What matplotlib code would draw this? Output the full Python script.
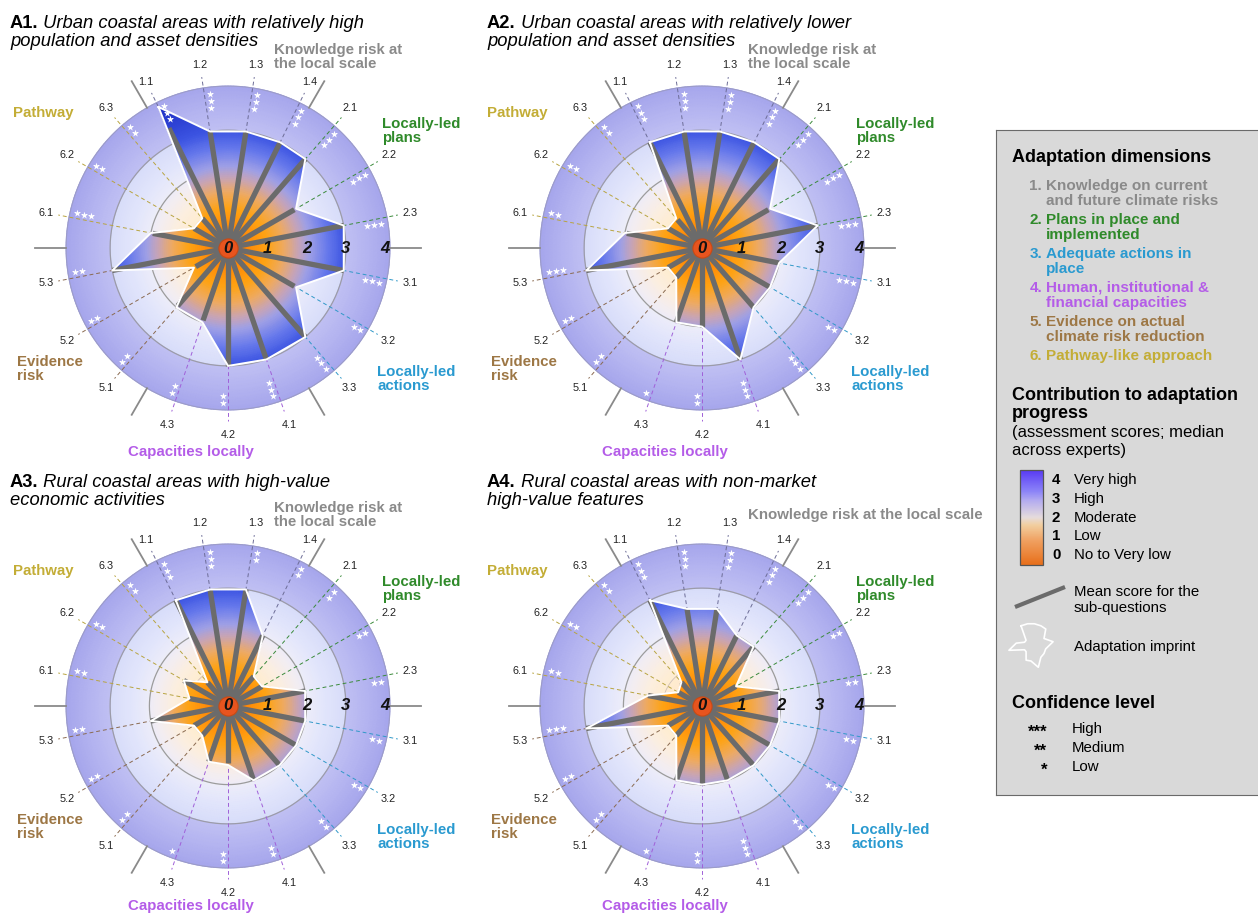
import numpy as np
import matplotlib
matplotlib.use("Agg")
import matplotlib.pyplot as plt
from matplotlib.colors import LinearSegmentedColormap, Normalize, to_rgb
from matplotlib.patches import Polygon, Rectangle

plt.rcParams['font.family'] = ['Liberation Sans', 'DejaVu Sans']

W, H = 1258, 913

# sub-questions, grouped by adaptation dimension
questions = ['1.1', '1.2', '1.3', '1.4', '2.1', '2.2', '2.3', '3.1', '3.2', '3.3',
             '4.1', '4.2', '4.3', '5.1', '5.2', '5.3', '6.1', '6.2', '6.3']
dim_sizes = [4, 3, 3, 3, 3, 3]
dim_centers = [90, 30, -30, -90, -150, -210]   # degrees, sector centres
dim_colors = ['#8a8a8a', '#2f8a2a', '#2a9ad0', '#b45ce8', '#9d7745', '#c3ad36']
dash_colors = ['#6c6c96', '#3a8a3a', '#3098c8', '#a060d8', '#8a6a50', '#b8a440']

dim_labels = ['Knowledge risk at\nthe local scale', 'Locally-led\nplans', 'Locally-led\nactions',
              'Capacities locally', 'Evidence\nrisk', 'Pathway']
dim_labels_a4 = ['Knowledge risk at the local scale'] + dim_labels[1:]

legend_dims = [('1.', 'Knowledge on current', 'and future climate risks'),
               ('2.', 'Plans in place and', 'implemented'),
               ('3.', 'Adequate actions in', 'place'),
               ('4.', 'Human, institutional &', 'financial capacities'),
               ('5.', 'Evidence on actual', 'climate risk reduction'),
               ('6.', 'Pathway-like approach', None)]
score_ticks = [4, 3, 2, 1, 0]
score_names = ['Very high', 'High', 'Moderate', 'Low', 'No to Very low']
conf_marks = ['***', '**', '*']
conf_names = ['High', 'Medium', 'Low']

# panel titles
titles = [('A1.', 'Urban coastal areas with relatively high', 'population and asset densities'),
          ('A2.', 'Urban coastal areas with relatively lower', 'population and asset densities'),
          ('A3.', 'Rural coastal areas with high-value', 'economic activities'),
          ('A4.', 'Rural coastal areas with non-market', 'high-value features')]

# median scores (adaptation imprint), mean scores (spokes), confidence (number of stars)
a1_median = [4, 3, 3, 3, 3, 2, 3, 3, 2, 3, 3, 3, 2, 2, 1, 3, 2, 1, 1]
a1_mean = [3.4, 3, 3, 3, 3, 1.95, 3, 3, 1.95, 3, 3, 3, 1.95, 1.95, 0.95, 3, 1.95, 1, 1]
a1_conf = [3, 3, 3, 3, 3, 3, 3, 3, 2, 3, 3, 2, 2, 2, 2, 2, 3, 2, 2]

a2_median = [3, 3, 3, 3, 3, 2, 3, 2, 2, 2, 3, 2, 2, 1, 1, 3, 2, 1, 1]
a2_mean = [3, 3, 3, 3, 3, 1.95, 3, 2, 2, 2, 3, 2, 2, 1, 1, 3, 1.95, 1, 0.95]
a2_conf = [3, 3, 3, 3, 3, 3, 3, 3, 2, 3, 3, 2, 1, 2, 2, 3, 2, 2, 2]

a3_median = [3, 3, 3, 2, 1, 1, 2, 2, 2, 2, 2, 1.5, 1.5, 1, 1, 2, 1, 1.3, 0.8]
a3_mean = [3, 3, 3, 2, 1, 1, 2, 2, 2, 2, 2, 1.45, 1.5, 1, 1, 2, 1, 1.3, 0.8]
a3_conf = [3, 3, 2, 2, 2, 2, 2, 2, 2, 2, 2, 2, 1, 2, 2, 2, 2, 2, 2]

a4_median = [3, 2.5, 2.5, 2, 2, 1, 2, 2, 2, 2, 2, 2, 2, 1, 1, 3, 1.4, 0.7, 0.8]
a4_mean = [3, 2.5, 2.5, 2, 2, 1, 2, 2, 2, 2, 2, 2, 2, 1, 1, 3, 1.4, 0.7, 0.8]
a4_conf = [3, 3, 3, 3, 3, 2, 2, 2, 2, 2, 3, 2, 1, 2, 2, 3, 2, 2, 2]

# centre x, centre y, title x (pixels)
panels = [(228, 248, 10, titles[0], a1_median, a1_mean, a1_conf, dim_labels),
          (702, 248, 487, titles[1], a2_median, a2_mean, a2_conf, dim_labels),
          (228, 706, 10, titles[2], a3_median, a3_mean, a3_conf, dim_labels),
          (702, 706, 487, titles[3], a4_median, a4_mean, a4_conf, dim_labels_a4)]

# spoke angles: each dimension in a 60 degree sector, clockwise
angles_deg = []
dim_index = []
for d, (n, c) in enumerate(zip(dim_sizes, dim_centers)):
    sp = 17.5 if n == 4 else 19.0
    for i in range(n):
        angles_deg.append(c + ((n - 1) / 2 - i) * sp)
        dim_index.append(d)
angles = np.radians(angles_deg)

# colours
imp_stops = [(0.0, '#e04a18'), (0.06, '#ff7c00'), (0.25, '#ffa414'), (0.36, '#eeaa66'),
             (0.45, '#c8a4b8'), (0.52, '#a0a0e6'), (0.63, '#6a7cec'), (0.75, '#3c54e2'),
             (1.0, '#1e2ec4')]
imp_cmap = LinearSegmentedColormap.from_list('imprint', imp_stops)
bg_stops = [(p, tuple(0.2 * np.array(to_rgb(c)) + 0.8)) for p, c in imp_stops]
bg_cmap = LinearSegmentedColormap.from_list('faded', bg_stops)
band_cmap = LinearSegmentedColormap.from_list('band', ['#c0c0f3', '#b4b4f0', '#a6a6ec'])
leg_cmap = LinearSegmentedColormap.from_list(
    'legend', [(0, '#e8701c'), (0.25, '#f0a060'), (0.42, '#f2cfa0'), (0.5, '#e6dcdc'),
               (0.68, '#b4acf0'), (0.78, '#8c84f8'), (1, '#5a3cf4')])
norm = Normalize(0, 4)

fig = plt.figure(figsize=(W / 100, H / 100), dpi=100)
fig.patch.set_facecolor('white')

# label offsets (pixels from chart centre) for the dimension names
dim_offsets = [(46, 191, 'left'), (154, 117, 'left'), (149, -131, 'left'),
               (-37, -204, 'center'), (-211, -121, 'left'), (-215, 135, 'left')]

RPX = 196.5  # pixel radius of each polar axes (r = 5)
th = np.linspace(0, 2 * np.pi, 361)

for cx, cy, tx, title, med, mean, conf, dlabels in panels:
    ax = fig.add_axes([(cx - RPX) / W, 1 - (cy + RPX) / H, 2 * RPX / W, 2 * RPX / H],
                      projection='polar')
    ax.set_ylim(0, 5.0)
    ax.set_axis_off()

    # faded background and outer confidence band
    r1 = np.linspace(0, 3.0, 61)
    T, R = np.meshgrid(th, r1)
    ax.pcolormesh(T, R, R, cmap=bg_cmap, norm=norm, shading='gouraud', zorder=1)
    r2 = np.linspace(3.0, 4.12, 12)
    T, R = np.meshgrid(th, r2)
    ax.pcolormesh(T, R, R, cmap=band_cmap, norm=Normalize(3.0, 4.12), shading='gouraud', zorder=1)

    # rings
    ax.plot(th, np.full_like(th, 1), color='#d0c0b8', lw=0.6, zorder=2)
    ax.plot(th, np.full_like(th, 2), color='#9c9c9c', lw=0.9, zorder=2)
    ax.plot(th, np.full_like(th, 3), color='#9c9ca8', lw=0.9, zorder=2)
    ax.plot(th, np.full_like(th, 4.12), color='#9c9cc8', lw=0.8, zorder=2)

    # sector separators
    for a in range(0, 360, 60):
        ax.plot([np.radians(a)] * 2, [4.12, 4.9], color='#8a8a8a', lw=1.3, zorder=2)

    # dashed guide lines and labels
    for q, a, d in zip(questions, angles, dim_index):
        ax.plot([a, a], [0.2, 4.4], color=dash_colors[d], lw=0.7, ls=(0, (4, 3)), zorder=2.5)
        rl = 4.72 + (0.04 if np.sin(a) < -0.8 else 0)
        ax.text(a, rl, q, fontsize=7.8, ha='center', va='center', color='#222222')

    # adaptation imprint: full gradient clipped to polygon
    r3 = np.linspace(0, 4.12, 84)
    T, R = np.meshgrid(th, r3)
    mesh = ax.pcolormesh(T, R, R, cmap=imp_cmap, norm=norm, shading='gouraud', zorder=3)
    poly = Polygon(np.column_stack([angles, med]), closed=True, transform=ax.transData)
    mesh.set_clip_path(poly)

    # mean score spokes
    for a, m in zip(angles, mean):
        ax.plot([a, a], [0, m], color='#6b6b6b', lw=3.8, solid_capstyle='butt', zorder=4)

    # imprint outline
    ax.plot(np.append(angles, angles[0]), np.append(med, med[0]), color='white', lw=1.4, zorder=5)

    # confidence stars
    st_t, st_r = [], []
    for a, n in zip(angles, conf):
        for k in range(n):
            st_t.append(a - np.radians(2.0))
            st_r.append(3.95 - 0.18 * k)
    ax.scatter(st_t, st_r, marker='*', s=30, c='white', linewidths=0, zorder=6)

    # score numbers
    for k in range(1, 5):
        ax.text(0, k, str(k), fontsize=12, weight='bold', style='italic',
                ha='center', va='center', color='#111111', zorder=7)
    ax.scatter([0], [0], s=190, c='#e8541e', edgecolors='#c84a14', linewidths=0.8, zorder=8)
    ax.text(0, 0, '0', fontsize=12, weight='bold', style='italic',
            ha='center', va='center', color='#111111', zorder=9)

    # dimension names (bottom row label kept inside the figure edge)
    for lab, (dx, dy, ha), col in zip(dlabels, dim_offsets, dim_colors):
        if cy > H / 2 and dy < -200:
            dy = -200
        ax.annotate(lab, xy=(0, 0), xytext=(dx, dy), textcoords='offset pixels',
                    ha=ha, va='center', fontsize=10.8, weight='bold', color=col,
                    linespacing=1.0, annotation_clip=False)

    # title
    t1 = fig.text(tx / W, 1 - (cy - 224) / H, title[0], fontsize=13.2, weight='bold', va='center')
    ax.annotate(' ' + title[1], xy=(1, 0), xycoords=t1, va='bottom', ha='left',
                fontsize=13.2, style='italic', annotation_clip=False)
    fig.text(tx / W, 1 - (cy - 206) / H, title[2], fontsize=13.2, style='italic', va='center')

# legend box
lg = fig.add_axes([996 / W, 1 - 795 / H, (W - 996) / W, (795 - 130) / H])
lg.set_xlim(996, W)
lg.set_ylim(795, 130)
lg.set_facecolor('#d9d9d9')
lg.set_xticks([])
lg.set_yticks([])
for s in lg.spines.values():
    s.set_color('#6a6a6a')
lg.spines['right'].set_visible(False)

lg.text(1012, 158, 'Adaptation dimensions', fontsize=13, weight='bold', va='center')
y = 186
for (num, l1, l2), col in zip(legend_dims, dim_colors):
    lg.text(1042, y, num, fontsize=11, weight='bold', color=col, ha='right', va='center')
    lg.text(1046, y, l1, fontsize=11, weight='bold', color=col, va='center')
    if l2:
        lg.text(1046, y + 15.5, l2, fontsize=11, weight='bold', color=col, va='center')
    y += 34

lg.text(1012, 396, 'Contribution to adaptation', fontsize=13, weight='bold', va='center')
lg.text(1012, 413, 'progress', fontsize=13, weight='bold', va='center')
lg.text(1012, 433, '(assessment scores; median', fontsize=12, va='center')
lg.text(1012, 451, 'across experts)', fontsize=12, va='center')

lg.imshow(np.linspace(4, 0, 100).reshape(-1, 1), extent=(1020, 1043, 565, 470),
          cmap=leg_cmap, norm=norm, aspect='auto', zorder=2)
lg.add_patch(Rectangle((1020, 470), 23, 95, fill=False, ec='#555555', lw=0.9, zorder=3))
for i, (v, nm) in enumerate(zip(score_ticks, score_names)):
    yy = 480 + i * 18.8
    lg.text(1052, yy, str(v), fontsize=10.8, weight='bold', va='center')
    lg.text(1074, yy, nm, fontsize=10.8, va='center')

lg.plot([1015, 1065], [607, 587], color='#6b6b6b', lw=3, solid_capstyle='butt')
lg.text(1074, 592, 'Mean score for the', fontsize=10.8, va='center')
lg.text(1074, 608, 'sub-questions', fontsize=10.8, va='center')

gx = 1031 + 7.5 * np.array(a2_median) * np.cos(angles)
gy = 646 - 7.5 * np.array(a2_median) * np.sin(angles)
lg.plot(np.append(gx, gx[0]), np.append(gy, gy[0]), color='white', lw=1.2)
lg.text(1074, 647, 'Adaptation imprint', fontsize=10.8, va='center')

lg.text(1012, 703, 'Confidence level', fontsize=13, weight='bold', va='center')
for i, (mk, nm) in enumerate(zip(conf_marks, conf_names)):
    yy = 729 + i * 19
    lg.text(1047, yy + 3, mk, fontsize=12, weight='bold', ha='right', va='center')
    lg.text(1072, yy, nm, fontsize=10.8, va='center')

fig.savefig('out.png', dpi=100)
